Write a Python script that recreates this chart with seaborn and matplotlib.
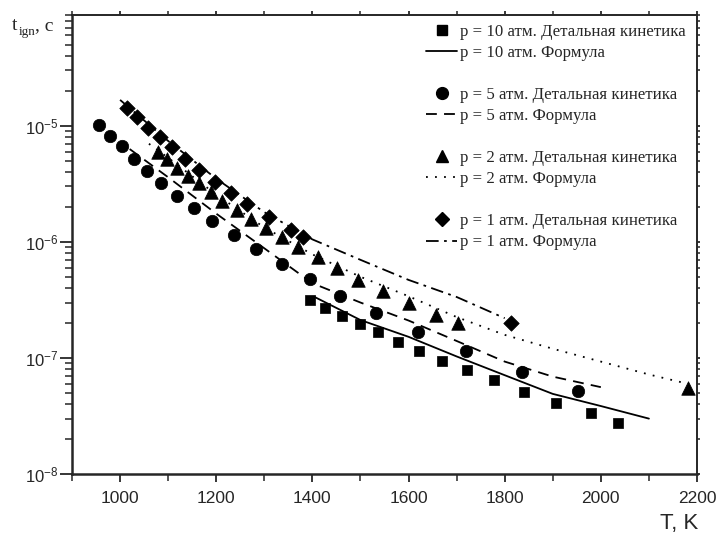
import matplotlib
matplotlib.use("Agg")
import matplotlib.pyplot as plt
from matplotlib.lines import Line2D
from matplotlib.ticker import LogLocator, NullFormatter, MultipleLocator
import seaborn as sns
import pandas as pd
import numpy as np

# ---- data: detailed kinetics (markers) ----
T_p10 = [1396, 1427, 1461, 1498, 1537, 1579, 1622, 1670, 1722, 1778, 1840, 1907, 1980, 2036]
t_p10 = [3.17e-7, 2.70e-7, 2.31e-7, 1.97e-7, 1.68e-7, 1.38e-7, 1.15e-7, 9.5e-8, 7.8e-8,
         6.4e-8, 5.1e-8, 4.1e-8, 3.37e-8, 2.77e-8]

T_p5 = [956, 979, 1004, 1029, 1056, 1085, 1118, 1153, 1191, 1236, 1282, 1336, 1394, 1458,
        1533, 1620, 1720, 1836, 1953]
t_p5 = [1.02e-5, 8.2e-6, 6.7e-6, 5.2e-6, 4.1e-6, 3.23e-6, 2.49e-6, 1.97e-6, 1.52e-6, 1.15e-6,
        8.7e-7, 6.5e-7, 4.8e-7, 3.43e-7, 2.45e-7, 1.68e-7, 1.15e-7, 7.6e-8, 5.2e-8]

T_p2 = [1079, 1097, 1118, 1141, 1164, 1189, 1213, 1243, 1272, 1303, 1336, 1371, 1411, 1452,
        1494, 1546, 1600, 1658, 1703, 2181]
t_p2 = [5.97e-6, 5.2e-6, 4.35e-6, 3.7e-6, 3.23e-6, 2.7e-6, 2.26e-6, 1.89e-6, 1.58e-6, 1.32e-6,
        1.11e-6, 9.1e-7, 7.4e-7, 5.98e-7, 4.72e-7, 3.79e-7, 2.99e-7, 2.35e-7, 2.0e-7, 5.5e-8]

T_p1 = [1014, 1035, 1058, 1083, 1108, 1135, 1164, 1197, 1230, 1265, 1309, 1355, 1380, 1813]
t_p1 = [1.43e-5, 1.20e-5, 9.6e-6, 8.0e-6, 6.5e-6, 5.2e-6, 4.18e-6, 3.3e-6, 2.65e-6, 2.13e-6,
        1.64e-6, 1.27e-6, 1.11e-6, 2.0e-7]

# ---- data: formula (lines) ----
Tf_p10 = [1404, 1500, 1600, 1700, 1800, 1900, 2000, 2100]
tf_p10 = [3.36e-7, 2.12e-7, 1.52e-7, 1.03e-7, 7.1e-8, 4.9e-8, 3.85e-8, 3.0e-8]

Tf_p5 = [1020, 1100, 1200, 1300, 1400, 1500, 1600, 1700, 1800, 1900, 2000]
tf_p5 = [6.3e-6, 3.6e-6, 1.75e-6, 8.8e-7, 4.4e-7, 3.0e-7, 2.1e-7, 1.4e-7, 9.3e-8, 6.9e-8, 5.6e-8]

Tf_p2 = [1060, 1100, 1200, 1300, 1400, 1500, 1600, 1700, 1800, 1900, 2000, 2100, 2180]
tf_p2 = [7.0e-6, 5.3e-6, 2.55e-6, 1.33e-6, 7.8e-7, 5.0e-7, 3.4e-7, 2.25e-7, 1.58e-7, 1.2e-7,
         9.3e-8, 7.2e-8, 6.0e-8]

Tf_p1 = [1000, 1100, 1200, 1300, 1400, 1500, 1600, 1700, 1800]
tf_p1 = [1.67e-5, 7.4e-6, 3.5e-6, 1.8e-6, 1.05e-6, 7.0e-7, 4.7e-7, 3.35e-7, 2.2e-7]

labels_kin = ["p = 10 атм. Детальная кинетика", "p = 5 атм. Детальная кинетика",
              "p = 2 атм. Детальная кинетика", "p = 1 атм. Детальная кинетика"]
labels_form = ["p = 10 атм. Формула", "p = 5 атм. Формула",
               "p = 2 атм. Формула", "p = 1 атм. Формула"]

sns.set_style("ticks")
plt.rcParams['font.family'] = ['Liberation Sans', 'DejaVu Sans']

fig = plt.figure(figsize=(7.19, 5.36), dpi=100)
ax = fig.add_axes([72/719, 1-474/536, (697-72)/719, (474-15)/536])

markers = ['s', 'o', '^', 'D']
msizes = [62, 80, 95, 62]
styles = ['-', (0, (6, 4)), (0, (1, 4)), (0, (7, 3, 1.5, 3))]

kin = [(T_p10, t_p10), (T_p5, t_p5), (T_p2, t_p2), (T_p1, t_p1)]
form = [(Tf_p10, tf_p10), (Tf_p5, tf_p5), (Tf_p2, tf_p2), (Tf_p1, tf_p1)]

for i in range(4):
    df_f = pd.DataFrame({"T": form[i][0], "t": form[i][1]})
    sns.lineplot(data=df_f, x="T", y="t", ax=ax, color="black", linewidth=1.3,
                 legend=False, sort=True, estimator=None)
    ax.lines[-1].set_linestyle(styles[i])
for i in range(4):
    df_k = pd.DataFrame({"T": kin[i][0], "t": kin[i][1]})
    sns.scatterplot(data=df_k, x="T", y="t", ax=ax, color="black", marker=markers[i],
                    s=msizes[i], edgecolor="black", linewidth=0.5, legend=False, zorder=3)

ax.set_yscale("log")
ax.set_xlim(900, 2200)
ax.set_ylim(1e-8, 9e-5)
ax.xaxis.set_major_locator(MultipleLocator(200))
ax.xaxis.set_minor_locator(MultipleLocator(100))
ax.yaxis.set_major_locator(LogLocator(base=10, numticks=10))
ax.yaxis.set_minor_locator(LogLocator(base=10, subs=np.arange(2, 10), numticks=20))
ax.yaxis.set_minor_formatter(NullFormatter())
ax.set_xlabel("")
ax.set_ylabel("")

for s in ['left', 'bottom']:
    ax.spines[s].set_linewidth(1.8)
for s in ['top', 'right']:
    ax.spines[s].set_visible(True)
    ax.spines[s].set_linewidth(1.4)

ax.tick_params(axis='x', which='major', direction='out', length=6, width=1.3,
               labelsize=12.5, pad=6, top=True)
ax.tick_params(axis='x', which='minor', direction='out', length=5, width=1.1, top=True)
ax.tick_params(axis='y', which='major', direction='out', length=9, width=1.3,
               labelsize=12, pad=1, right=True)
ax.tick_params(axis='y', which='minor', direction='out', length=5, width=1.1, right=True)
ax.tick_params(which='both', top=True, right=True)
for t in ax.xaxis.get_ticklines(minor=False)[1::2] + ax.xaxis.get_ticklines(minor=True)[1::2]:
    t.set_markersize(3)
for t in ax.yaxis.get_ticklines(minor=False)[1::2] + ax.yaxis.get_ticklines(minor=True)[1::2]:
    t.set_markersize(2.5)

# y-axis label: t_ign, c (serif, with subscript)
serif = ['Liberation Serif']
fig.text(12/719, 1-30/536, "t", fontsize=14, family=serif, ha='left', va='baseline')
fig.text(18.5/719, 1-35/536, "ign", fontsize=9.5, family=serif, ha='left', va='baseline')
fig.text(35/719, 1-30/536, ", c", fontsize=14, family=serif, ha='left', va='baseline')
fig.text(698/719, 1-529/536, "T, K", fontsize=16, ha='right', va='baseline')

# legend
handles, labels = [], []
blank = Line2D([], [], linestyle='none', marker=None)
for i in range(4):
    handles.append(Line2D([], [], color='black', marker=markers[i], linestyle='none',
                          markersize=[7.5, 8.5, 9, 7.5][i]))
    labels.append(labels_kin[i])
    handles.append(Line2D([], [], color='black', linestyle=styles[i], linewidth=1.3))
    labels.append(labels_form[i])
    if i < 3:
        handles.append(blank)
        labels.append("")

leg = ax.legend(handles, labels, loc='upper left', bbox_to_anchor=(426/719, 1-24/536),
                bbox_transform=fig.transFigure, frameon=False, borderpad=0, borderaxespad=0,
                handlelength=1.85, handletextpad=0.15, labelspacing=0.30,
                prop={'family': 'Liberation Serif', 'size': 12.1})

fig.savefig("out.png", dpi=100)
